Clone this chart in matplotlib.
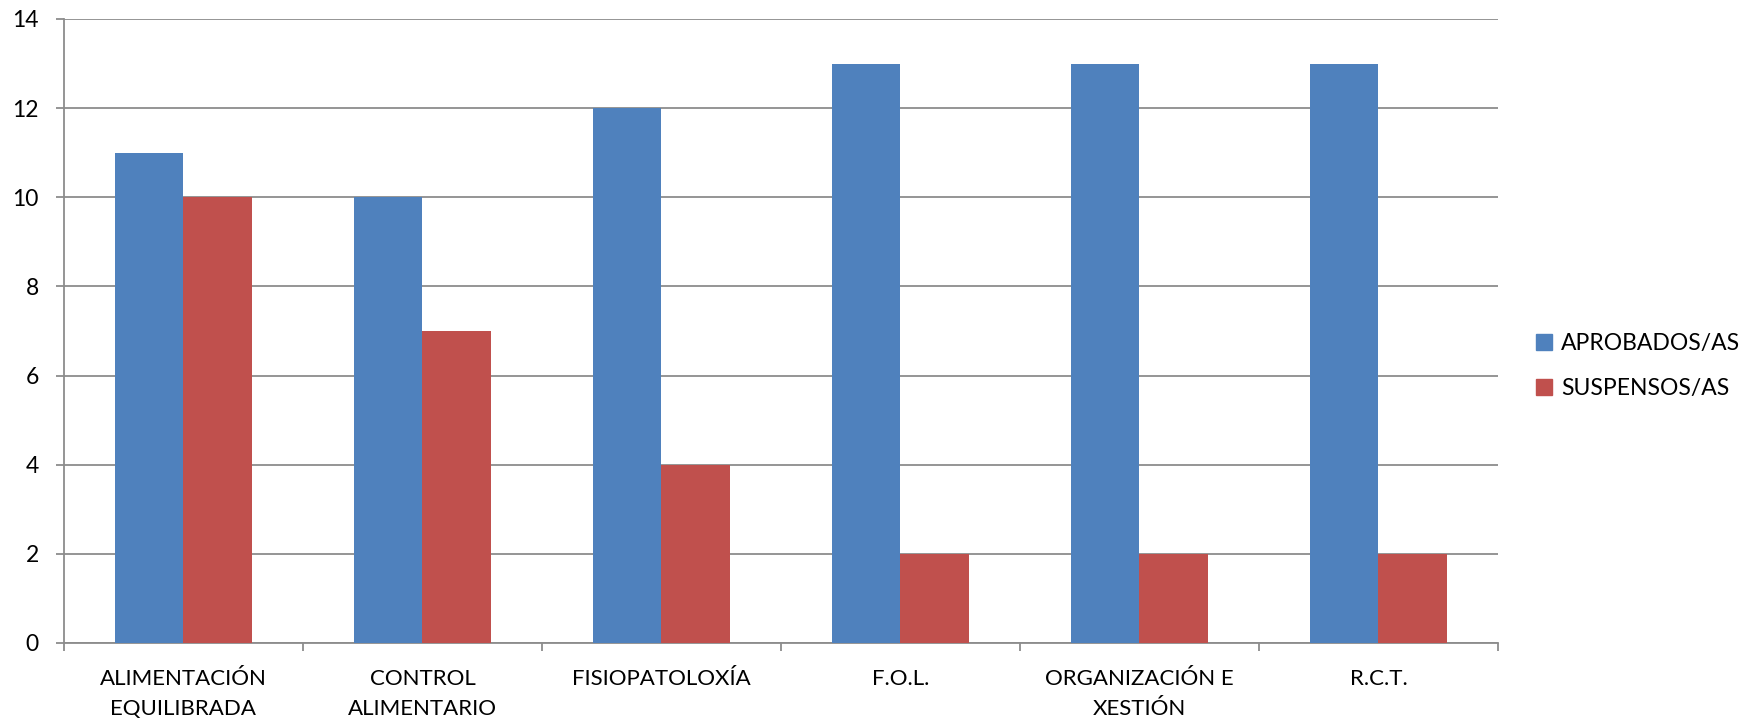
import numpy as np
import matplotlib
matplotlib.use("Agg")
import matplotlib.pyplot as plt
from matplotlib.patches import Patch

# ------------------ Data ------------------
categories = ["ALIMENTACIÓN\nEQUILIBRADA", "CONTROL\nALIMENTARIO", "FISIOPATOLOXÍA",
              "F.O.L.", "ORGANIZACIÓN E\nXESTIÓN", "R.C.T."]
aprobados = [11, 10, 12, 13, 13, 13]
suspensos = [10, 7, 4, 2, 2, 2]
series_names = ["APROBADOS/AS", "SUSPENSOS/AS"]
y_ticks = [0, 2, 4, 6, 8, 10, 12, 14]

BLUE = "#4F81BD"
RED = "#C0504D"
GRID = "#8C8C8C"

plt.rcParams["font.family"] = ["Lato", "DejaVu Sans"]

# ------------------ Plot ------------------
fig = plt.figure(figsize=(17.43, 7.24), dpi=100)
ax = fig.add_axes([0.0367, 0.1119, 0.8227, 0.8619])

x = np.arange(len(categories))
width = 1 / 3.5
ax.bar(x - width / 2, aprobados, width, color=BLUE, zorder=3)
ax.bar(x + width / 2, suspensos, width, color=RED, zorder=3)

ax.set_xlim(-0.5, len(categories) - 0.5)
ax.set_ylim(0, 14)
ax.set_yticks(y_ticks)
ax.set_yticklabels([str(v) for v in y_ticks], fontsize=16.5)
ax.yaxis.grid(True, color=GRID, linewidth=1.3, zorder=0)

ax.set_xticks(x)
ax.set_xticklabels(categories, fontsize=16, linespacing=1.6)
ax.set_xticks(np.arange(-0.5, len(categories)), minor=True)
ax.tick_params(axis="x", which="major", length=0, pad=19)
ax.tick_params(axis="x", which="minor", length=6, color=GRID, width=1.3)
ax.tick_params(axis="y", length=6, color=GRID, width=1.3, pad=12)

for side in ["top", "right"]:
    ax.spines[side].set_visible(False)
for side in ["left", "bottom"]:
    ax.spines[side].set_color(GRID)
    ax.spines[side].set_linewidth(1.3)

handles = [Patch(color=BLUE), Patch(color=RED)]
fig.legend(handles, series_names, loc="center left", bbox_to_anchor=(0.881, 0.495),
           frameon=False, fontsize=16.5, handlelength=0.7, handleheight=0.7,
           handletextpad=0.4, labelspacing=1.05, borderpad=0, borderaxespad=0)

fig.savefig("out.png", dpi=100)
